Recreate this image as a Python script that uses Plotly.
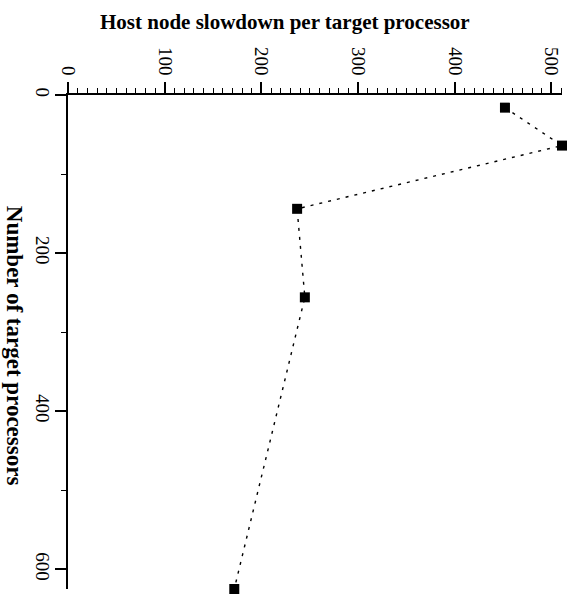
import plotly.graph_objects as go

# Number of target processors and the measured host-node slowdown
processors = [16, 64, 144, 256, 625]
slowdown = [452, 511, 237, 245, 172]

x_title = "Host node slowdown per target processor"
y_title = "Number of target processors"

serif = "Liberation Serif, Times New Roman, serif"

fig = go.Figure()
fig.add_trace(go.Scatter(
    x=slowdown,
    y=processors,
    mode="lines+markers",
    line=dict(color="black", width=1.4, dash="3px,6px"),
    marker=dict(symbol="square", size=10, color="black"),
    cliponaxis=False,
    showlegend=False,
))

axis_common = dict(
    showline=True,
    linecolor="black",
    linewidth=1.5,
    ticks="outside",
    ticklen=11,
    tickwidth=1.5,
    tickcolor="black",
    tickangle=90,
    showgrid=False,
    zeroline=False,
    tickfont=dict(family=serif, size=19, color="black"),
)

fig.update_xaxes(
    side="top",
    range=[0, max(slowdown)],
    dtick=100,
    tick0=0,
    minor=dict(dtick=10, ticklen=5, tickwidth=1.2, tickcolor="black", ticks="outside", showgrid=False),
    **axis_common,
)
fig.update_yaxes(
    range=[max(processors), 0],
    dtick=200,
    tick0=0,
    ticklabelstandoff=-4,
    minor=dict(dtick=100, ticklen=5, tickwidth=1.2, tickcolor="black", ticks="outside", showgrid=False),
    **axis_common,
)

fig.add_annotation(
    text="<b>" + x_title + "</b>",
    xref="paper", yref="paper",
    x=0.44, y=1.148,
    xanchor="center", yanchor="middle",
    showarrow=False,
    font=dict(family=serif, size=21, color="black"),
)
fig.add_annotation(
    text="<b>" + y_title + "</b>",
    xref="paper", yref="paper",
    x=-0.108, y=0.493,
    xanchor="center", yanchor="middle",
    textangle=90,
    showarrow=False,
    font=dict(family=serif, size=23, color="black"),
)

fig.update_layout(
    width=576,
    height=597,
    margin=dict(l=68, r=14, t=95, b=8),
    paper_bgcolor="white",
    plot_bgcolor="white",
)

fig.write_html("out.html")
